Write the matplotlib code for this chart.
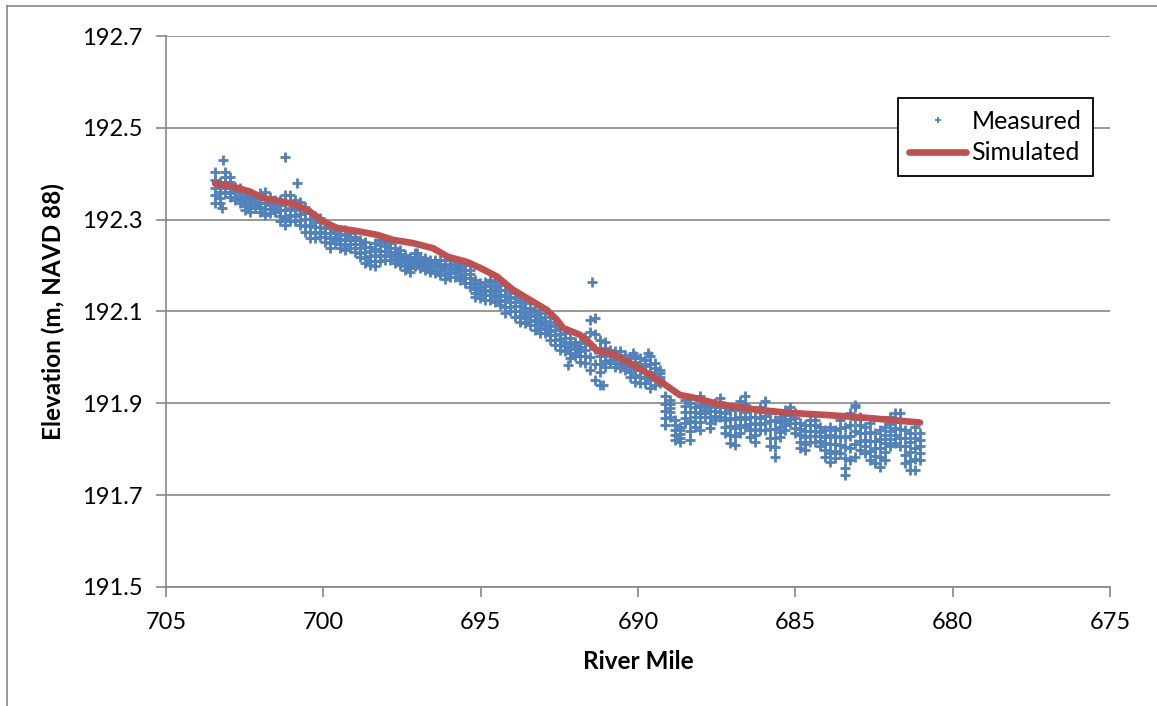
import matplotlib.pyplot as plt
import matplotlib
from matplotlib.lines import Line2D

matplotlib.rcParams['font.family'] = ['Lato', 'DejaVu Sans']
matplotlib.rcParams['font.size'] = 17

# measured water surface at each station
# (top edge, upper, middle, lower, bottom edge)
stn_mile = [703.44, 703.28, 703.12, 702.97, 702.81, 702.65, 702.49, 702.33, 702.17, 702.01,
            701.85, 701.70, 701.54, 701.38, 701.22, 701.06, 700.90, 700.74, 700.58, 700.42,
            700.26, 700.11, 699.95, 699.79, 699.63, 699.47, 699.31, 699.15, 698.99, 698.84,
            698.68, 698.52, 698.36, 698.20, 698.04, 697.88, 697.72, 697.56, 697.41, 697.25,
            697.09, 696.93, 696.77, 696.61, 696.45, 696.29, 696.13, 695.98, 695.82, 695.66,
            695.50, 695.34, 695.18, 695.02, 694.86, 694.71, 694.55, 694.39, 694.23, 694.07,
            693.91, 693.75, 693.59, 693.43, 693.28, 693.12, 692.96, 692.80, 692.64, 692.48,
            692.32, 692.16, 692.00, 691.85, 691.69, 691.53, 691.37, 691.21, 691.05, 690.89,
            690.73, 690.57, 690.42, 690.26, 690.10, 689.94, 689.78, 689.62, 689.46, 689.30,
            689.14, 688.99, 688.83, 688.67, 688.51, 688.35, 688.19, 688.03, 687.87, 687.72,
            687.56, 687.40, 687.24, 687.08, 686.92, 686.76, 686.60, 686.44, 686.29, 686.13,
            685.97, 685.81, 685.65, 685.49, 685.33, 685.17, 685.01, 684.86, 684.70, 684.54,
            684.38, 684.22, 684.06, 683.90, 683.74, 683.58, 683.43, 683.27, 683.11, 682.95,
            682.79, 682.63, 682.47, 682.31, 682.15, 682.00, 681.84, 681.68, 681.52, 681.36,
            681.20, 681.04]

meas_top = [192.404, 192.383, 192.404, 192.394, 192.372, 192.369, 192.358, 192.354, 192.350, 192.358,
            192.361, 192.350, 192.343, 192.343, 192.354, 192.354, 192.343, 192.339, 192.328, 192.315,
            192.307, 192.304, 192.293, 192.282, 192.278, 192.278, 192.278, 192.271, 192.263, 192.256,
            192.252, 192.241, 192.249, 192.256, 192.252, 192.249, 192.238, 192.234, 192.223, 192.219,
            192.227, 192.219, 192.217, 192.212, 192.212, 192.212, 192.212, 192.212, 192.209, 192.206,
            192.201, 192.190, 192.169, 192.162, 192.165, 192.169, 192.165, 192.158, 192.147, 192.140,
            192.132, 192.125, 192.119, 192.108, 192.103, 192.097, 192.089, 192.078, 192.071, 192.064,
            192.053, 192.042, 192.034, 192.034, 192.045, 192.082, 192.086, 192.038, 192.034, 192.016,
            192.013, 192.013, 192.005, 191.999, 192.003, 191.999, 191.994, 192.003, 191.988, 191.973,
            191.915, 191.907, 191.864, 191.849, 191.907, 191.901, 191.893, 191.915, 191.901, 191.896,
            191.901, 191.912, 191.893, 191.885, 191.885, 191.904, 191.915, 191.885, 191.871, 191.893,
            191.904, 191.879, 191.864, 191.871, 191.885, 191.893, 191.879, 191.857, 191.853, 191.864,
            191.864, 191.849, 191.842, 191.849, 191.842, 191.864, 191.849, 191.879, 191.893, 191.871,
            191.849, 191.857, 191.835, 191.842, 191.849, 191.871, 191.879, 191.879, 191.842, 191.835,
            191.849, 191.835]

meas_upper = [192.387, 192.371, 192.392, 192.383, 192.365, 192.360, 192.349, 192.344, 192.344, 192.347,
              192.348, 192.341, 192.336, 192.331, 192.337, 192.339, 192.331, 192.326, 192.314, 192.301,
              192.295, 192.294, 192.282, 192.271, 192.270, 192.268, 192.267, 192.263, 192.255, 192.247,
              192.240, 192.231, 192.236, 192.244, 192.242, 192.239, 192.230, 192.226, 192.215, 192.211,
              192.219, 192.213, 192.210, 192.206, 192.205, 192.204, 192.202, 192.203, 192.201, 192.197,
              192.191, 192.181, 192.160, 192.154, 192.155, 192.158, 192.154, 192.147, 192.134, 192.130,
              192.121, 192.113, 192.108, 192.099, 192.092, 192.086, 192.080, 192.068, 192.060, 192.052,
              192.043, 192.031, 192.026, 192.023, 192.031, 192.055, 192.052, 192.020, 192.020, 192.009,
              192.005, 192.004, 191.997, 191.989, 191.989, 191.985, 191.981, 191.985, 191.976, 191.965,
              191.899, 191.898, 191.853, 191.841, 191.894, 191.881, 191.882, 191.897, 191.893, 191.883,
              191.892, 191.902, 191.878, 191.867, 191.866, 191.887, 191.898, 191.870, 191.857, 191.880,
              191.888, 191.861, 191.844, 191.860, 191.874, 191.884, 191.868, 191.843, 191.839, 191.852,
              191.852, 191.838, 191.827, 191.830, 191.827, 191.846, 191.826, 191.853, 191.866, 191.853,
              191.835, 191.837, 191.819, 191.822, 191.831, 191.855, 191.863, 191.861, 191.824, 191.815,
              191.825, 191.820]

meas_mid = [192.370, 192.360, 192.381, 192.372, 192.358, 192.352, 192.340, 192.335, 192.338, 192.337,
            192.336, 192.332, 192.330, 192.320, 192.321, 192.325, 192.320, 192.313, 192.301, 192.288,
            192.284, 192.284, 192.272, 192.260, 192.263, 192.258, 192.256, 192.255, 192.247, 192.238,
            192.229, 192.221, 192.224, 192.232, 192.232, 192.230, 192.222, 192.218, 192.207, 192.203,
            192.212, 192.207, 192.203, 192.200, 192.198, 192.196, 192.192, 192.194, 192.193, 192.188,
            192.182, 192.172, 192.150, 192.146, 192.145, 192.147, 192.143, 192.136, 192.122, 192.120,
            192.111, 192.102, 192.097, 192.090, 192.082, 192.075, 192.071, 192.058, 192.049, 192.040,
            192.034, 192.021, 192.018, 192.013, 192.017, 192.028, 192.019, 192.003, 192.007, 192.002,
            191.997, 191.995, 191.989, 191.979, 191.975, 191.972, 191.969, 191.968, 191.964, 191.958,
            191.884, 191.889, 191.842, 191.833, 191.882, 191.861, 191.871, 191.879, 191.886, 191.871,
            191.883, 191.892, 191.864, 191.850, 191.847, 191.870, 191.882, 191.856, 191.844, 191.868,
            191.873, 191.843, 191.824, 191.849, 191.864, 191.875, 191.857, 191.830, 191.826, 191.840,
            191.840, 191.828, 191.813, 191.811, 191.812, 191.828, 191.804, 191.828, 191.839, 191.835,
            191.821, 191.817, 191.803, 191.802, 191.813, 191.839, 191.847, 191.843, 191.806, 191.795,
            191.802, 191.806]

meas_lower = [192.353, 192.348, 192.369, 192.361, 192.350, 192.344, 192.330, 192.326, 192.331, 192.327,
              192.323, 192.323, 192.323, 192.308, 192.304, 192.310, 192.308, 192.300, 192.287, 192.274,
              192.272, 192.273, 192.262, 192.249, 192.256, 192.248, 192.245, 192.246, 192.238, 192.228,
              192.217, 192.211, 192.211, 192.220, 192.222, 192.221, 192.214, 192.209, 192.198, 192.195,
              192.205, 192.201, 192.196, 192.193, 192.191, 192.188, 192.181, 192.185, 192.184, 192.178,
              192.172, 192.163, 192.141, 192.137, 192.135, 192.136, 192.132, 192.125, 192.109, 192.110,
              192.100, 192.090, 192.086, 192.080, 192.071, 192.064, 192.062, 192.048, 192.038, 192.028,
              192.024, 192.010, 192.010, 192.002, 192.002, 192.000, 191.985, 191.985, 191.993, 191.995,
              191.988, 191.986, 191.981, 191.968, 191.961, 191.958, 191.956, 191.950, 191.952, 191.951,
              191.868, 191.880, 191.831, 191.824, 191.869, 191.840, 191.860, 191.860, 191.878, 191.858,
              191.873, 191.881, 191.849, 191.832, 191.828, 191.852, 191.865, 191.841, 191.830, 191.855,
              191.857, 191.824, 191.804, 191.838, 191.853, 191.866, 191.846, 191.816, 191.812, 191.828,
              191.828, 191.817, 191.798, 191.792, 191.796, 191.810, 191.781, 191.802, 191.811, 191.817,
              191.806, 191.797, 191.786, 191.782, 191.795, 191.822, 191.830, 191.824, 191.788, 191.775,
              191.778, 191.791]

meas_bot = [192.336, 192.336, 192.358, 192.350, 192.343, 192.336, 192.321, 192.317, 192.325, 192.317,
            192.310, 192.315, 192.317, 192.296, 192.288, 192.296, 192.296, 192.288, 192.274, 192.260,
            192.260, 192.263, 192.252, 192.238, 192.249, 192.238, 192.234, 192.238, 192.230, 192.219,
            192.206, 192.201, 192.198, 192.209, 192.212, 192.212, 192.206, 192.201, 192.190, 192.187,
            192.198, 192.195, 192.190, 192.187, 192.184, 192.180, 192.171, 192.176, 192.176, 192.169,
            192.162, 192.154, 192.132, 192.129, 192.125, 192.125, 192.121, 192.114, 192.097, 192.100,
            192.089, 192.078, 192.075, 192.071, 192.060, 192.053, 192.053, 192.038, 192.027, 192.016,
            192.014, 191.999, 192.002, 191.991, 191.988, 191.973, 191.951, 191.968, 191.980, 191.988,
            191.980, 191.977, 191.973, 191.958, 191.947, 191.944, 191.944, 191.933, 191.940, 191.944,
            191.853, 191.871, 191.820, 191.816, 191.857, 191.820, 191.849, 191.842, 191.871, 191.846,
            191.864, 191.871, 191.835, 191.814, 191.809, 191.835, 191.849, 191.827, 191.816, 191.842,
            191.842, 191.806, 191.784, 191.827, 191.842, 191.857, 191.835, 191.803, 191.799, 191.816,
            191.816, 191.806, 191.784, 191.773, 191.781, 191.792, 191.759, 191.777, 191.784, 191.799,
            191.792, 191.777, 191.770, 191.762, 191.777, 191.806, 191.814, 191.806, 191.770, 191.755,
            191.755, 191.777]

# isolated measured points away from the band
out_mile = [703.23, 703.19, 701.22, 700.84, 697.02, 692.23, 691.46, 691.21, 691.11, 690.16, 689.69, 683.43, 683.11]
out_elev = [192.325, 192.430, 192.436, 192.380, 192.227, 191.984, 192.164, 191.940, 191.940, 192.010, 192.010, 191.744, 191.896]

sim_mile = [703.44, 702.87, 702.33, 701.92, 701.28, 700.84, 700.42, 700.01, 699.57, 698.84,
            698.30, 697.79, 697.16, 696.52, 696.04, 695.44, 695.02, 694.48, 693.97, 693.43,
            692.89, 692.58, 692.38, 691.84, 691.53, 691.30, 690.89, 690.26, 689.72, 689.21,
            688.67, 688.35, 687.30, 686.22, 685.17, 684.12, 683.04, 682.00, 681.04]
sim_elev = [192.379, 192.372, 192.361, 192.347, 192.339, 192.332, 192.317, 192.296, 192.282, 192.274,
            192.267, 192.256, 192.249, 192.238, 192.219, 192.208, 192.195, 192.176, 192.147, 192.125,
            192.103, 192.082, 192.064, 192.049, 192.031, 192.014, 192.010, 191.988, 191.966, 191.944,
            191.918, 191.914, 191.896, 191.886, 191.879, 191.875, 191.870, 191.864, 191.858]

blue = '#4F81BD'
red = '#C0504D'
grey = '#868686'

fig = plt.figure(figsize=(11.57, 7.06), dpi=100)
ax = fig.add_axes([0.1435, 0.1686, 0.8159, 0.7804])

# thin grey frame around the chart area
fig.add_artist(Line2D([7 / 1157, 7 / 1157], [0, 1 - 6 / 706], color=grey, lw=1.2))
fig.add_artist(Line2D([7 / 1157, 1], [1 - 6 / 706, 1 - 6 / 706], color=grey, lw=1.2))

mk = dict(marker='+', ls='none', color=blue, ms=6.5, mew=2.0, zorder=3)
for row in (meas_top, meas_upper, meas_mid, meas_lower, meas_bot):
    ax.plot(stn_mile, row, **mk)
ax.plot(out_mile, out_elev, **mk)
ax.plot(sim_mile, sim_elev, color=red, lw=4.8, solid_capstyle='round', solid_joinstyle='round', zorder=4)

ax.set_xlim(705, 675)
ax.set_ylim(191.5, 192.7)
ax.set_xticks([705, 700, 695, 690, 685, 680, 675])
ax.set_yticks([191.5, 191.7, 191.9, 192.1, 192.3, 192.5, 192.7])
ax.set_yticklabels(['191.5', '191.7', '191.9', '192.1', '192.3', '192.5', '192.7'])

ax.grid(axis='y', color=grey, lw=1.2)
ax.set_axisbelow(True)
for s in ('top', 'right'):
    ax.spines[s].set_visible(False)
for s in ('left', 'bottom'):
    ax.spines[s].set_color(grey)
    ax.spines[s].set_linewidth(1.2)
ax.tick_params(axis='both', color=grey, width=1.2, length=7, labelsize=17)
ax.tick_params(axis='x', pad=11)
ax.tick_params(axis='y', pad=10)

ax.set_xlabel('River Mile', fontweight='bold', fontsize=17.5, labelpad=12)
ax.set_ylabel('Elevation (m, NAVD 88)', fontweight='bold', fontsize=17.5, labelpad=12)

handles = [Line2D([], [], marker='+', ls='none', color=blue, ms=4, mew=1.3),
           Line2D([], [], color=red, lw=4.8, solid_capstyle='round')]
leg = ax.legend(handles, ['Measured', 'Simulated'], loc='upper left', bbox_to_anchor=(0.775, 0.887),
                fancybox=False, edgecolor='black', framealpha=1, fontsize=18,
                handlelength=2.3, handletextpad=0.2, borderpad=0.45, labelspacing=0.35,
                borderaxespad=0)
leg.get_frame().set_linewidth(1.3)

fig.savefig('out.png')
